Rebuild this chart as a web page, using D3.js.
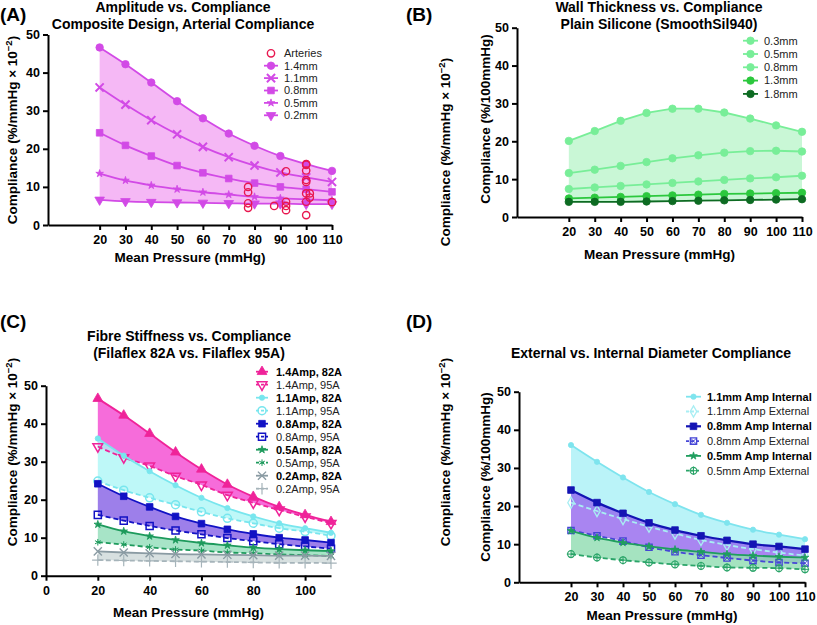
<!DOCTYPE html>
<html>
<head>
<meta charset="utf-8">
<script src="https://cdn.jsdelivr.net/npm/d3@7"></script>
<style>
  body { margin: 0; background: #fff; }
  svg { font-family: "Liberation Sans", Arial, sans-serif; }
  .axis path, .axis line { stroke: #000; stroke-width: 2; }
  .axis text { font-size: 12.5px; font-weight: bold; fill: #000; font-family: "Liberation Sans", Arial, sans-serif; }
  .title { font-size: 14px; font-weight: bold; text-anchor: middle; }
  .panel-label { font-size: 19px; font-weight: bold; }
  .axis-label { font-size: 13.5px; font-weight: bold; text-anchor: middle; }
  .legend text { font-size: 11px; fill: #222; }
  .legend text.bold { font-weight: bold; fill: #000; }
</style>
</head>
<body>
<div id="chart"></div>
<script>
// ---- data ----
const pressure = [20, 30, 40, 50, 60, 70, 80, 90, 100, 110];

// (A) amplitude, composite design
const amp14 = [46.6, 42.2, 37.4, 32.5, 28.0, 24.0, 20.8, 18.1, 16.0, 14.2];
const amp11 = [36.1, 31.6, 27.5, 23.8, 20.5, 17.8, 15.6, 13.8, 12.5, 11.3];
const amp08 = [24.2, 20.9, 18.1, 15.6, 13.7, 12.2, 11.0, 10.0, 9.4, 8.7];
const amp05 = [13.5, 11.7, 10.4, 9.4, 8.6, 8.0, 7.4, 7.0, 6.7, 6.5];
const amp02 = [6.6, 6.2, 6.0, 5.9, 5.8, 5.7, 5.6, 5.6, 5.5, 5.5];
const arteryPressure = [77.5, 77.5, 77.5, 77.5, 87.6, 92.2, 92.2, 92.2, 92.2, 100, 100, 100, 100, 100, 100, 100, 100, 101.4, 101.4, 110];
const arteryCompliance = [10.0, 8.6, 5.7, 4.5, 5.0, 14.1, 6.1, 5.0, 3.9, 16.0, 15.8, 14.3, 11.8, 11.3, 8.3, 6.1, 2.6, 8.3, 7.2, 6.0];

// (B) wall thickness, plain silicone
const wall03 = [20.1, 22.7, 25.4, 27.5, 28.6, 28.6, 27.6, 26.0, 24.2, 22.5];
const wall05 = [11.6, 12.5, 13.5, 14.5, 15.5, 16.3, 17.0, 17.4, 17.5, 17.3];
const wall08 = [7.4, 7.8, 8.2, 8.6, 9.0, 9.4, 9.8, 10.2, 10.5, 10.9];
const wall13 = [4.9, 5.1, 5.3, 5.5, 5.7, 5.9, 6.1, 6.2, 6.3, 6.4];
const wall18 = [4.0, 4.0, 4.0, 4.1, 4.2, 4.3, 4.4, 4.5, 4.6, 4.7];

// (C) fibre stiffness, 82A vs 95A
const fib14a82 = [46.6, 42.2, 37.4, 32.5, 28.0, 24.0, 20.8, 18.1, 16.0, 14.2];
const fib14a95 = [34.0, 31.1, 28.9, 26.2, 23.9, 21.2, 19.2, 17.3, 15.5, 13.8];
const fib11a82 = [36.1, 31.6, 27.5, 23.8, 20.5, 17.8, 15.6, 13.8, 12.5, 11.3];
const fib11a95 = [24.9, 22.5, 20.5, 18.7, 16.8, 15.1, 13.8, 12.5, 11.6, 10.5];
const fib08a82 = [24.2, 20.9, 18.1, 15.6, 13.7, 12.2, 11.0, 10.0, 9.4, 8.7];
const fib08a95 = [16.0, 14.5, 13.1, 11.9, 10.9, 9.9, 9.1, 8.3, 7.7, 7.1];
const fib05a82 = [13.5, 11.7, 10.4, 9.4, 8.6, 8.0, 7.4, 7.0, 6.7, 6.5];
const fib05a95 = [8.8, 8.2, 7.5, 6.9, 6.6, 6.1, 5.9, 5.6, 5.4, 5.2];
const fib02a82 = [6.4, 6.1, 5.9, 5.7, 5.6, 5.5, 5.4, 5.3, 5.3, 5.2];
const fib02a95 = [4.1, 4.0, 3.9, 3.8, 3.7, 3.6, 3.5, 3.4, 3.4, 3.3];

// (D) external vs internal diameter
const int11 = [36.0, 31.6, 27.5, 23.7, 20.5, 17.7, 15.6, 13.8, 12.5, 11.3];
const ext11 = [20.9, 18.7, 16.6, 14.6, 12.8, 11.1, 9.8, 8.7, 7.8, 7.0];
const int08 = [24.2, 20.9, 18.1, 15.6, 13.7, 12.2, 11.0, 10.0, 9.4, 8.7];
const ext08 = [13.6, 12.2, 10.8, 9.2, 8.0, 7.1, 6.4, 5.7, 5.2, 5.0];
const int05 = [13.5, 11.7, 10.4, 9.4, 8.6, 8.0, 7.4, 7.0, 6.7, 6.5];
const ext05 = [7.4, 6.5, 5.8, 5.2, 4.7, 4.3, 3.9, 3.8, 3.7, 3.4];

const yTicks = [0, 10, 20, 30, 40, 50];
const xTicksShort = [20, 30, 40, 50, 60, 70, 80, 90, 100, 110];
const xTicksWide = [0, 20, 40, 60, 80, 100];

// ---- drawing ----
const width = 817, height = 625;
const svg = d3.select("#chart").append("svg")
  .attr("width", width).attr("height", height)
  .attr("viewBox", [0, 0, width, height]);

const shapes = {
  circle: d3.symbolCircle, square: d3.symbolSquare, triangle: d3.symbolTriangle,
  star: d3.symbolStar, diamond: d3.symbolDiamond,
  times: d3.symbolTimes || d3.symbolX, plus: d3.symbolPlus, asterisk: d3.symbolAsterisk
};
const strokeOnly = new Set(["times", "plus", "asterisk"]);

// draws one marker (and optional overlay glyph) at cx, cy
function drawMarker(g, m, color, cx, cy) {
  const parts = [m].concat(m.overlay ? [m.overlay] : []);
  parts.forEach(p => {
    const open = p.hollow || strokeOnly.has(p.shape);
    g.append("path")
      .attr("d", d3.symbol(shapes[p.shape], p.size)())
      .attr("transform", `translate(${cx},${cy}) rotate(${p.rotate || 0})`)
      .attr("fill", open ? (p.hollow && !strokeOnly.has(p.shape) ? "#fff" : "none") : color)
      .attr("fill-opacity", p.hollow ? 0 : 1)
      .attr("stroke", color)
      .attr("stroke-width", p.sw || (open ? 1.4 : 0.8));
  });
}

function drawPanel(cfg) {
  const g = svg.append("g");
  const x = d3.scaleLinear().domain([0, 110]).range(cfg.xRange);
  const y = d3.scaleLinear().domain([0, 50]).range(cfg.yRange);
  const curve = cfg.curve || d3.curveMonotoneX;

  // shaded bands
  (cfg.bands || []).forEach(b => {
    const area = d3.area()
      .x((d, i) => x(pressure[i]))
      .y0((d, i) => y(b.lower[i]))
      .y1(d => y(d))
      .curve(curve);
    g.append("path").datum(b.upper)
      .attr("d", area)
      .attr("fill", b.color)
      .attr("fill-opacity", b.opacity || 1);
  });

  // axes
  g.append("g").attr("class", "axis")
    .attr("transform", `translate(0,${cfg.yRange[0]})`)
    .call(d3.axisBottom(x).tickValues(cfg.xTicks).tickSize(5).tickSizeOuter(0).tickPadding(5));
  g.append("g").attr("class", "axis")
    .attr("transform", `translate(${cfg.xRange[0]},0)`)
    .call(d3.axisLeft(y).tickValues(yTicks).tickSize(5).tickSizeOuter(0).tickPadding(3));

  // lines and markers
  cfg.series.forEach(s => {
    const line = d3.line()
      .x((d, i) => x(pressure[i]))
      .y(d => y(d))
      .curve(curve);
    g.append("path").datum(s.values)
      .attr("d", line)
      .attr("fill", "none")
      .attr("stroke", s.color)
      .attr("stroke-width", s.width || 1.8)
      .attr("stroke-dasharray", s.dash || null);
    s.values.forEach((v, i) => drawMarker(g, s.marker, s.color, x(pressure[i]), y(v)));
  });

  // scatter points
  if (cfg.scatter) {
    const sc = cfg.scatter;
    sc.px.forEach((p, i) => drawMarker(g, sc.marker, sc.color, x(p), y(sc.py[i])));
  }

  // titles
  cfg.title.forEach((t, i) => {
    g.append("text").attr("class", "title")
      .attr("x", cfg.titleX).attr("y", cfg.titleY + i * 16.5).text(t);
  });
  g.append("text").attr("class", "panel-label")
    .attr("x", cfg.labelPos[0]).attr("y", cfg.labelPos[1]).text(cfg.label);

  // x axis label
  g.append("text").attr("class", "axis-label")
    .attr("x", (cfg.xRange[0] + cfg.xRange[1]) / 2 + (cfg.xLabelShift || 0))
    .attr("y", cfg.xLabelY).text("Mean Pressure (mmHg)");

  // y axis labels
  cfg.yLabels.forEach(l => {
    const t = g.append("text").attr("class", "axis-label")
      .attr("transform", `translate(${l.x},${l.y}) rotate(-90)`);
    if (l.sup) {
      t.append("tspan").text("Compliance (%/mmHg × 10");
      t.append("tspan").attr("dy", -5).attr("font-size", "9.5px").text("−2");
      t.append("tspan").attr("dy", 5).text(")");
    } else {
      t.text("Compliance (%/100mmHg)");
    }
  });

  // legend
  const lg = g.append("g").attr("class", "legend");
  const L = cfg.legend;
  const entries = (cfg.scatter ? [cfg.scatter] : []).concat(cfg.series);
  entries.forEach((s, i) => {
    const yy = L.y + i * L.dy;
    if (!s.noLine) {
      lg.append("line")
        .attr("x1", L.x).attr("x2", L.x + L.len)
        .attr("y1", yy).attr("y2", yy)
        .attr("stroke", s.color).attr("stroke-width", s.width || 1.8)
        .attr("stroke-dasharray", s.dash ? "3,2" : null);
    }
    drawMarker(lg, s.marker, s.color, L.x + L.len / 2, yy);
    lg.append("text")
      .attr("class", s.bold ? "bold" : null)
      .attr("x", L.x + L.len + L.gap).attr("y", yy).attr("dy", "0.35em")
      .text(s.name);
  });
}

// marker presets
const mCircle = { shape: "circle", size: 44 };
const mSmallCircle = { shape: "circle", size: 22 };
const mSquare = { shape: "square", size: 44 };
const mTimes = { shape: "times", size: 45, sw: 2 };
const mStar = { shape: "star", size: 18 };
const mDownTri = { shape: "triangle", size: 40, rotate: 180 };

// (A)
const colA = "#d24ae6";
drawPanel({
  label: "(A)", labelPos: [0, 21],
  title: ["Amplitude vs. Compliance", "Composite Design, Arterial Compliance"], titleX: 183, titleY: 12,
  xRange: [48, 332], yRange: [225, 34.5], xTicks: xTicksShort, xLabelY: 262,
  yLabels: [{ x: 17, y: 130, sup: true }],
  bands: [{ upper: amp14, lower: amp02, color: "#f5b8f5" }],
  series: [
    { name: "1.4mm", values: amp14, color: colA, marker: mCircle },
    { name: "1.1mm", values: amp11, color: colA, marker: mTimes },
    { name: "0.8mm", values: amp08, color: colA, marker: mSquare },
    { name: "0.5mm", values: amp05, color: colA, marker: mStar },
    { name: "0.2mm", values: amp02, color: colA, marker: mDownTri }
  ],
  scatter: { name: "Arteries", px: arteryPressure, py: arteryCompliance, color: "#e8174f", noLine: true,
             marker: { shape: "circle", size: 42, hollow: true, sw: 1.4 } },
  legend: { x: 264, y: 53.3, dy: 12.4, len: 14, gap: 6 }
});

// (B)
drawPanel({
  label: "(B)", labelPos: [406, 21],
  title: ["Wall Thickness vs. Compliance", "Plain Silicone (SmoothSil940)"], titleX: 659, titleY: 12,
  xRange: [517, 802], yRange: [217, 27.7], xTicks: xTicksShort, xLabelY: 259,
  curve: d3.curveLinear,
  yLabels: [{ x: 450, y: 152, sup: true }, { x: 490, y: 119 }],
  bands: [{ upper: wall03, lower: wall18, color: "#c9f7d6" }],
  series: [
    { name: "0.3mm", values: wall03, color: "#78ee98", marker: mCircle },
    { name: "0.5mm", values: wall05, color: "#78ee98", marker: mCircle },
    { name: "0.8mm", values: wall08, color: "#78ee98", marker: mCircle },
    { name: "1.3mm", values: wall13, color: "#2cc83e", marker: mCircle },
    { name: "1.8mm", values: wall18, color: "#0d6b22", marker: mCircle }
  ],
  legend: { x: 743, y: 40.7, dy: 13.3, len: 15, gap: 6 }
});

// (C)
drawPanel({
  label: "(C)", labelPos: [0, 328],
  title: ["Fibre Stiffness vs. Compliance", "(Filaflex 82A vs. Filaflex 95A)"], titleX: 189, titleY: 341,
  xRange: [46, 331], yRange: [575.7, 385.7], xTicks: xTicksWide, xLabelY: 617,
  yLabels: [{ x: 17, y: 452, sup: true }],
  bands: [
    { upper: fib14a82, lower: fib14a95, color: "#f452d4", opacity: 0.85 },
    { upper: fib11a82, lower: fib11a95, color: "#aef6f6", opacity: 0.8 },
    { upper: fib08a82, lower: fib08a95, color: "#8c68e6", opacity: 0.85 },
    { upper: fib05a82, lower: fib05a95, color: "#98dfbd", opacity: 0.85 },
    { upper: fib02a82, lower: fib02a95, color: "#d3dddd", opacity: 0.9 }
  ],
  series: [
    { name: "1.4Amp, 82A", bold: true, values: fib14a82, color: "#ef2399", marker: { shape: "triangle", size: 42 } },
    { name: "1.4Amp, 95A", values: fib14a95, color: "#ef2399", dash: "5,3", marker: { shape: "triangle", size: 42, rotate: 180, hollow: true, sw: 1.5 } },
    { name: "1.1Amp, 82A", bold: true, values: fib11a82, color: "#78e6ee", marker: mSmallCircle },
    { name: "1.1Amp, 95A", values: fib11a95, color: "#78e6ee", dash: "5,3", marker: { shape: "circle", size: 50, hollow: true, sw: 1.5 } },
    { name: "0.8Amp, 82A", bold: true, values: fib08a82, color: "#1212c4", marker: mSquare },
    { name: "0.8Amp, 95A", values: fib08a95, color: "#1212c4", dash: "5,3", marker: { shape: "square", size: 50, hollow: true, sw: 1.5 } },
    { name: "0.5Amp, 82A", bold: true, values: fib05a82, color: "#1d9a5c", marker: mStar },
    { name: "0.5Amp, 95A", values: fib05a95, color: "#1d9a5c", dash: "5,3", marker: { shape: "asterisk", size: 30, sw: 1 } },
    { name: "0.2Amp, 82A", bold: true, values: fib02a82, color: "#8a9ba3", marker: { shape: "times", size: 45, sw: 1.4 } },
    { name: "0.2Amp, 95A", values: fib02a95, color: "#a6b4ba", dash: "5,3", marker: { shape: "plus", size: 45, sw: 1.2 } }
  ],
  legend: { x: 256, y: 371.7, dy: 13.0, len: 12, gap: 8 }
});

// (D)
drawPanel({
  label: "(D)", labelPos: [406, 328],
  title: ["External vs. Internal Diameter Compliance"], titleX: 651, titleY: 358,
  xRange: [519, 805], yRange: [582.3, 391.7], xTicks: xTicksShort, xLabelY: 620,
  yLabels: [{ x: 450, y: 452, sup: true }, { x: 490, y: 477 }],
  bands: [
    { upper: int11, lower: ext11, color: "#b2f2f7", opacity: 0.9 },
    { upper: int08, lower: ext08, color: "#9466ee", opacity: 0.8 },
    { upper: int05, lower: ext05, color: "#8edcb0", opacity: 0.8 }
  ],
  series: [
    { name: "1.1mm Amp Internal", bold: true, values: int11, color: "#7ee4ee", marker: mSmallCircle },
    { name: "1.1mm Amp External", values: ext11, color: "#a8eef3", dash: "5,3", marker: { shape: "diamond", size: 36, hollow: true, sw: 1.3 } },
    { name: "0.8mm Amp Internal", bold: true, values: int08, color: "#1414b4", width: 2.2, marker: mSquare },
    { name: "0.8mm Amp External", values: ext08, color: "#4646d6", dash: "5,3",
      marker: { shape: "square", size: 40, hollow: true, sw: 1.3, overlay: { shape: "times", size: 25, sw: 1 } } },
    { name: "0.5mm Amp Internal", bold: true, values: int05, color: "#1f9e5e", marker: mStar },
    { name: "0.5mm Amp External", values: ext05, color: "#2aa468", dash: "5,3",
      marker: { shape: "circle", size: 36, hollow: true, sw: 1.2, overlay: { shape: "plus", size: 25, sw: 1 } } }
  ],
  legend: { x: 686, y: 396.7, dy: 14.8, len: 15, gap: 6 }
});
</script>
</body>
</html>
